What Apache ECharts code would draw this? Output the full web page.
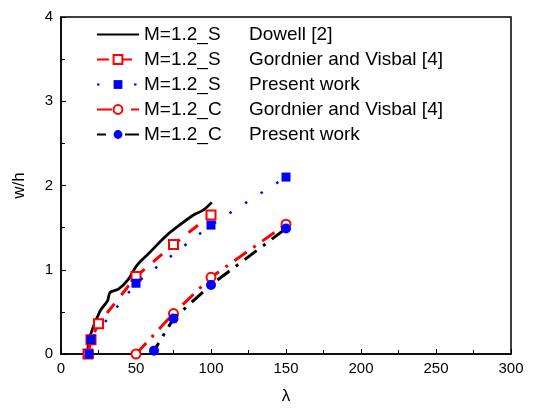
<!DOCTYPE html>
<html><head><meta charset="utf-8">
<script src="https://cdn.jsdelivr.net/npm/echarts@6/dist/echarts.min.js"></script>
<style>html,body{margin:0;padding:0;background:#fff}#c{width:538px;height:408px}</style>
</head><body><div id="c"></div>
<script>
// Data
const dowellX = [17.6, 19.3, 26, 31, 32.7, 38.3, 45, 50.5, 59.4, 70.5, 80.5, 88.3, 95, 100.5];
const dowellY = [0, 0.21, 0.51, 0.63, 0.73, 0.77, 0.89, 1.05, 1.21, 1.41, 1.55, 1.65, 1.71, 1.8];
const gvSX = [18, 20, 25, 50, 75, 100];
const gvSY = [0, 0.17, 0.36, 0.92, 1.3, 1.65];
const pwSX = [18.7, 20, 50, 100, 150];
const pwSY = [0, 0.17, 0.84, 1.53, 2.1];
const gvCX = [50, 75, 100, 150];
const gvCY = [0, 0.48, 0.91, 1.54];
const pwCX = [62, 75, 100, 150];
const pwCY = [0.04, 0.42, 0.82, 1.49];
const xTicks = [0, 50, 100, 150, 200, 250, 300];
const yTicks = [0, 1, 2, 3, 4];
const names = [
  ['M=1.2_S', 'Dowell [2]'],
  ['M=1.2_S', 'Gordnier and Visbal [4]'],
  ['M=1.2_S', 'Present work'],
  ['M=1.2_C', 'Gordnier and Visbal [4]'],
  ['M=1.2_C', 'Present work']
];

const zip = (a, b) => a.map((v, i) => [v, b[i]]);
const FONT = 'Arial, "Liberation Sans", sans-serif';
const seriesName = i => names[i][0] + '|' + names[i][1] + '|' + i;

const chart = echarts.init(document.getElementById('c'), null, {renderer: 'canvas'});
chart.setOption({
  animation: false,
  backgroundColor: '#fff',
  grid: {left: 61, right: 27, top: 17, bottom: 54, outerBoundsMode: 'none', containLabel: false,
         show: true, borderColor: '#000', borderWidth: 1.5, backgroundColor: 'transparent'},
  xAxis: {
    type: 'value', min: xTicks[0], max: xTicks[xTicks.length - 1], interval: 50,
    name: 'λ', nameLocation: 'middle', nameGap: 34,
    nameTextStyle: {fontFamily: FONT, fontSize: 17, color: '#000'},
    axisLine: {lineStyle: {color: '#000', width: 1.5}},
    axisTick: {inside: true, length: 5, lineStyle: {color: '#000', width: 1}},
    minorTick: {show: true, splitNumber: 2, length: 4, lineStyle: {color: '#000', width: 1}},
    axisLabel: {fontFamily: FONT, fontSize: 15, color: '#000', margin: 7},
    splitLine: {show: false}
  },
  yAxis: {
    type: 'value', min: yTicks[0], max: yTicks[yTicks.length - 1], interval: 1,
    name: 'w/h', nameLocation: 'middle', nameGap: 33,
    nameTextStyle: {fontFamily: FONT, fontSize: 17, color: '#000'},
    axisLine: {show: true, lineStyle: {color: '#000', width: 1.5}},
    axisTick: {show: true, inside: true, length: 5, lineStyle: {color: '#000', width: 1}},
    minorTick: {show: true, splitNumber: 2, length: 4, lineStyle: {color: '#000', width: 1}},
    axisLabel: {fontFamily: FONT, fontSize: 15, color: '#000', margin: 8},
    splitLine: {show: false}
  },
  legend: {
    orient: 'vertical', left: 96, top: 25, padding: 0,
    itemWidth: 42, itemHeight: 11, itemGap: 6,
    formatter: n => { const p = n.split('|'); return '{a|' + p[0] + '}{b|' + p[1] + '}'; },
    textStyle: {
      rich: {
        a: {fontFamily: FONT, fontSize: 19, color: '#000', width: 105, lineHeight: 18.5},
        b: {fontFamily: FONT, fontSize: 19, color: '#000', lineHeight: 18.5}
      }
    },
    data: [
      {name: seriesName(0), itemStyle: {color: 'rgba(0,0,0,0)'}},
      {name: seriesName(1)},
      {name: seriesName(2)},
      {name: seriesName(3)},
      {name: seriesName(4)}
    ]
  },
  series: [
    {
      name: seriesName(0), type: 'line', data: zip(dowellX, dowellY),
      symbol: 'circle', showSymbol: false, symbolSize: 1, smooth: 0.3, z: 2,
      itemStyle: {color: '#000'},
      lineStyle: {color: '#000', width: 2.8, type: 'solid'}
    },
    {
      name: seriesName(1), type: 'line', data: zip(gvSX, gvSY),
      symbol: 'emptyRect', symbolSize: 9, z: 3,
      itemStyle: {color: '#ff0000', borderColor: '#ff0000', borderWidth: 1.5},
      lineStyle: {color: '#ff0000', width: 3, type: [12, 11]}
    },
    {
      name: seriesName(2), type: 'line', data: zip(pwSX, pwSY),
      symbol: 'rect', symbolSize: 9, z: 4,
      itemStyle: {color: '#0000ff'},
      lineStyle: {color: '#0000ff', width: 2.5, type: [2.5, 16]}
    },
    {
      name: seriesName(3), type: 'line', data: zip(gvCX, gvCY),
      symbol: 'emptyCircle', symbolSize: 9, z: 3,
      itemStyle: {color: '#ff0000', borderColor: '#ff0000', borderWidth: 1.5},
      lineStyle: {color: '#ff0000', width: 3, type: [15, 8, 3, 8]}
    },
    {
      name: seriesName(4), type: 'line', data: zip(pwCX, pwCY),
      symbol: 'circle', symbolSize: 10, z: 4,
      itemStyle: {color: '#0000ff'},
      lineStyle: {color: '#000', width: 3, type: [15, 8, 3, 8], dashOffset: 6}
    }
  ]
});
</script></body></html>
